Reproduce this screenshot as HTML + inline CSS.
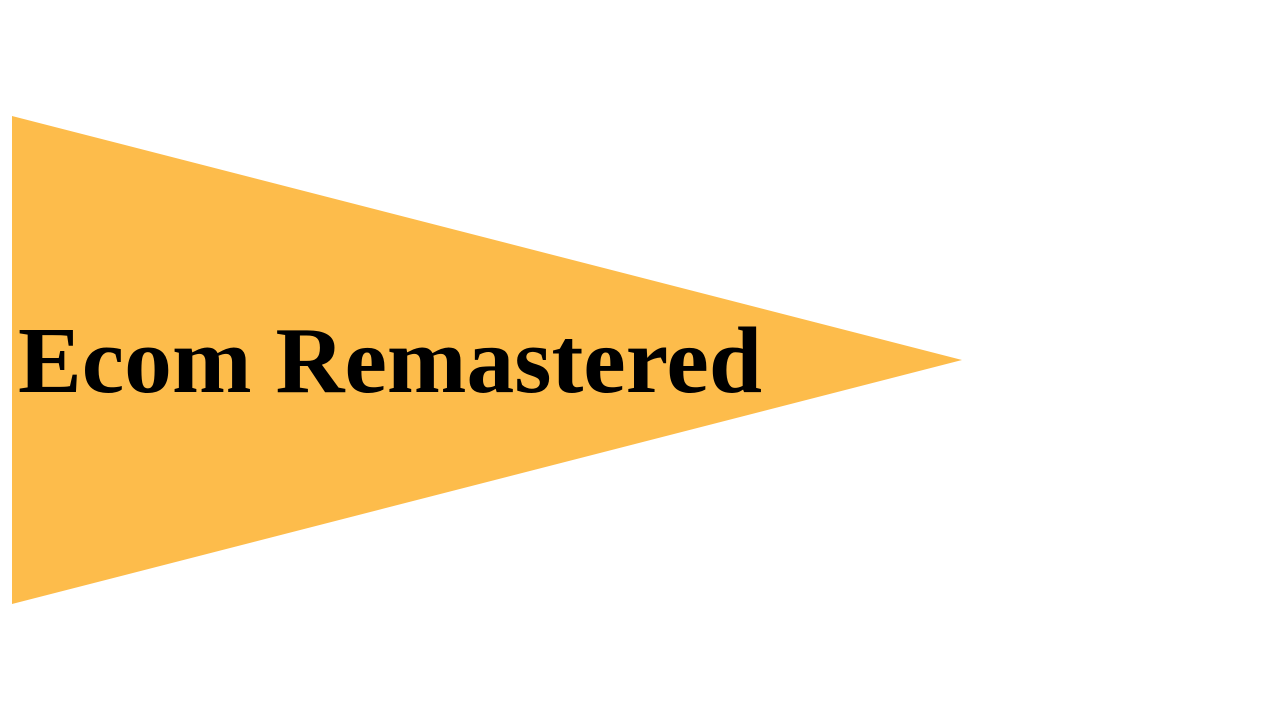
<!DOCTYPE html>
<html><head><style>html,body{margin:0;padding:0;background:#fff;width:1280px;height:720px;overflow:hidden}</style></head>
<body>
<svg width="1280" height="720" xmlns="http://www.w3.org/2000/svg">
<polygon points="12,116 12,604 962,360" fill="#FDBC4B"/>
<text x="18" y="392" font-family="Liberation Serif, serif" font-weight="bold" font-size="94" textLength="744" lengthAdjust="spacingAndGlyphs" fill="#000">Ecom Remastered</text>
</svg>
</body></html>
